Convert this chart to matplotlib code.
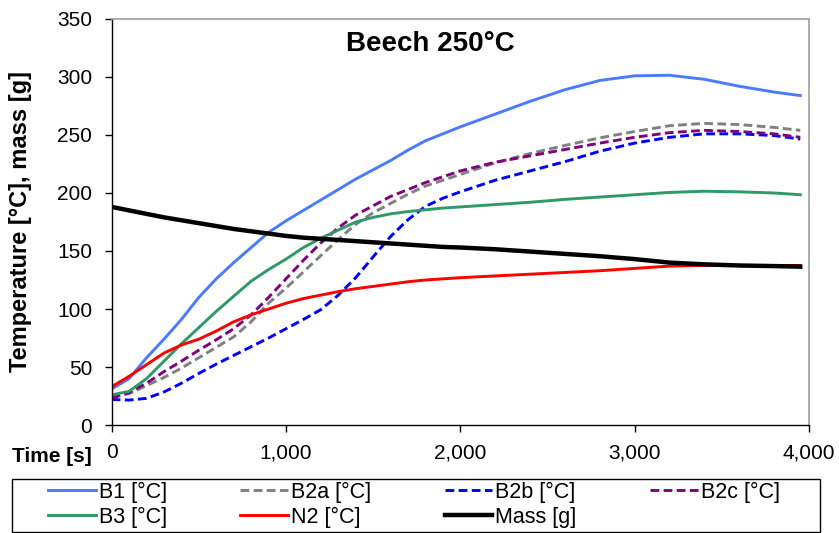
"""
Beech 250°C: thermocouple temperatures and sample mass over time.
"""

import matplotlib
matplotlib.use("Agg")
import matplotlib.pyplot as plt
from matplotlib.patches import Rectangle
from matplotlib.ticker import FuncFormatter, MultipleLocator

plt.rcParams['font.family'] = ['Liberation Sans', 'DejaVu Sans']

time_s = [0, 100, 200, 300, 400, 500, 600, 700, 800, 900, 1000, 1100, 1200,
          1300, 1400, 1500, 1600, 1700, 1800, 1900, 2000, 2200, 2400, 2600,
          2800, 3000, 3200, 3400, 3600, 3800, 3950]

# Temperatures [°C]
b1 = [31, 40, 58, 74, 91, 110, 126, 140, 153, 166, 176, 185, 194, 203, 212,
      220, 228, 237, 245, 251, 257, 268, 279, 289, 297, 301, 301.5, 298, 292,
      287, 284]
b2a = [24, 27, 34, 41, 49, 58, 67, 76, 89, 105, 118, 132, 146, 160, 173,
       183, 191, 199, 206, 211, 216, 226, 234, 241, 247.5, 253, 258, 260,
       259, 256.5, 254]
b2b = [22, 21.5, 23, 28.5, 36, 44.5, 52.5, 60, 67.5, 75, 83, 91, 99.5, 112,
       127, 145, 162.5, 177, 188.5, 195.5, 201, 211, 219, 227, 236, 243, 248,
       251, 251, 249.5, 246.5]
b2c = [23, 28, 36, 46, 55, 64.5, 73.5, 83, 95, 110, 126, 142, 157, 170, 181,
       189, 197, 203, 209, 214, 219, 226.5, 232, 237.5, 243, 248, 252, 254,
       253, 251, 248]
b3 = [26, 29, 40, 55, 70, 84, 98, 111, 124, 134, 143, 153, 161, 168, 175,
      179, 182, 184, 185.5, 187, 188, 190, 192, 194.5, 196.5, 198.5, 200.5,
      201.5, 201, 200, 198.5]
n2 = [33, 42, 52, 62, 69, 74, 81, 89, 95, 100, 105, 109, 112, 115, 117.5,
      119.5, 121.5, 123.5, 125, 126, 127, 128.5, 130, 131.5, 133, 135, 137,
      137.5, 137.5, 137.5, 137.5]

# Sample mass [g]
mass = [188, 185, 182, 179, 176.5, 174, 171.5, 169, 167, 165, 163, 161.5,
        160.5, 159.5, 158.5, 157.5, 156.5, 155.5, 154.5, 153.5, 153, 151.5,
        149.5, 147.5, 145.5, 143, 140, 138.5, 137.5, 137, 136.5]

fig = plt.figure(figsize=(8.39, 5.33), dpi=100)
ax = fig.add_axes([0.1331, 0.2026, 0.8311, 0.7618])

lw = 2.1
dash = (3.0, 1.5)
l_b1, = ax.plot(time_s, b1, color="#4A7BFF", lw=lw, label="B1 [°C]")
l_b2a, = ax.plot(time_s, b2a, color="#808080", lw=lw, dashes=dash, label="B2a [°C]")
l_b2b, = ax.plot(time_s, b2b, color="#0000FF", lw=lw, dashes=dash, label="B2b [°C]")
l_b2c, = ax.plot(time_s, b2c, color="#800080", lw=lw, dashes=dash, label="B2c [°C]")
l_b3, = ax.plot(time_s, b3, color="#2F9A66", lw=lw, label="B3 [°C]")
l_n2, = ax.plot(time_s, n2, color="#FF0000", lw=lw, label="N2 [°C]")
l_mass, = ax.plot(time_s, mass, color="#000000", lw=3.2, label="Mass [g]")

ax.set_xlim(0, 4000)
ax.set_ylim(0, 350)
ax.xaxis.set_major_locator(MultipleLocator(1000))
ax.yaxis.set_major_locator(MultipleLocator(50))
ax.xaxis.set_major_formatter(FuncFormatter(lambda v, _: f"{v:,.0f}"))
ax.tick_params(axis="x", direction="out", length=5, width=1, pad=8, labelsize=15)
ax.tick_params(axis="y", direction="out", length=5, width=1, pad=9, labelsize=15)

for side in ("left", "bottom"):
    ax.spines[side].set_color("black")
    ax.spines[side].set_linewidth(1.0)
for side in ("top", "right"):
    ax.spines[side].set_color("#A0A0A0")
    ax.spines[side].set_linewidth(1.2)

ax.set_ylabel("Temperature [°C], mass [g]", fontsize=17, fontweight="bold")
ax.yaxis.set_label_coords(-0.114, 0.5)
fig.text(12 / 839, 1 - 456 / 533, "Time [s]", fontsize=15, fontweight="bold",
         ha="left", va="center")

ax.text(0.4565, 0.938, "Beech 250°C", transform=ax.transAxes, fontsize=20,
        fontweight="bold", ha="center", va="center")

# Legend frame spans nearly the full width below the axes
fig.patches.append(Rectangle((12 / 839, 1 / 533), 808 / 839, 53 / 533,
                             transform=fig.transFigure, fill=False,
                             edgecolor="black", lw=1.0))

# column-major order so rows read B1, B2a, B2b, B2c / B3, N2, Mass
handles = [l_b1, l_b3, l_b2a, l_n2, l_b2b, l_mass, l_b2c]
fig.legend(handles=handles, labels=[h.get_label() for h in handles],
           loc="lower left", bbox_to_anchor=(46 / 839, 3 / 533, 736 / 839, 49 / 533),
           mode="expand", ncol=4, frameon=False, fontsize=15.5,
           handlelength=2.2, handletextpad=0.15, labelspacing=0.18,
           borderpad=0.1, borderaxespad=0)

fig.savefig("out.png", dpi=100)
